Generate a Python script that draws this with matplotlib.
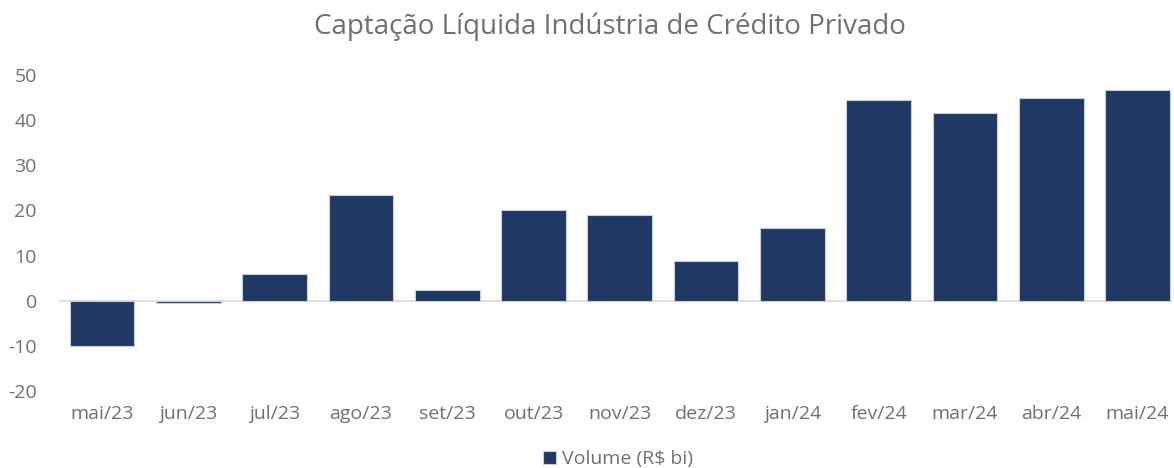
import matplotlib.pyplot as plt
import numpy as np

plt.rcParams['font.family'] = ['Open Sans', 'DejaVu Sans']

months = ['mai/23', 'jun/23', 'jul/23', 'ago/23', 'set/23', 'out/23', 'nov/23',
          'dez/23', 'jan/24', 'fev/24', 'mar/24', 'abr/24', 'mai/24']
volume = [-10.1, -0.4, 5.9, 23.5, 2.4, 20.2, 19.0, 8.8, 16.2, 44.5, 41.6, 44.8, 46.6]
yticks = [-20, -10, 0, 10, 20, 30, 40, 50]

navy = '#203864'
gray = '#707070'

fig = plt.figure(figsize=(11.74, 4.68), dpi=100)
ax = fig.add_axes([59 / 1174, 1 - 391 / 468, (1172 - 59) / 1174, (391 - 75) / 468])

x = np.arange(len(months))
ax.bar(x, volume, width=0.75, color=navy, edgecolor='#c8cfdc', linewidth=0.8,
       label='Volume (R$ bi)', zorder=2)
ax.axhline(0, color='#d9d9d9', linewidth=1.2, zorder=1)

ax.set_xlim(-0.5, 12.4)
ax.set_ylim(-20, 50)
ax.set_yticks(yticks)
ax.set_yticklabels([str(v) for v in yticks])
ax.set_xticks(x)
ax.set_xticklabels(months)
ax.tick_params(axis='both', length=0, labelsize=14, colors=gray)
ax.tick_params(axis='y', pad=16)
ax.tick_params(axis='x', pad=10)
for s in ax.spines.values():
    s.set_visible(False)

fig.suptitle('Captação Líquida Indústria de Crédito Privado', x=610 / 1174, y=1 - 27 / 468,
             va='center', fontsize=20, color=gray)
fig.legend(loc='center', bbox_to_anchor=(618 / 1174, 1 - 459 / 468), frameon=False,
           fontsize=14, labelcolor=gray, handlelength=0.65, handleheight=0.65,
           handletextpad=0.3)

fig.savefig('out.png', dpi=100)
